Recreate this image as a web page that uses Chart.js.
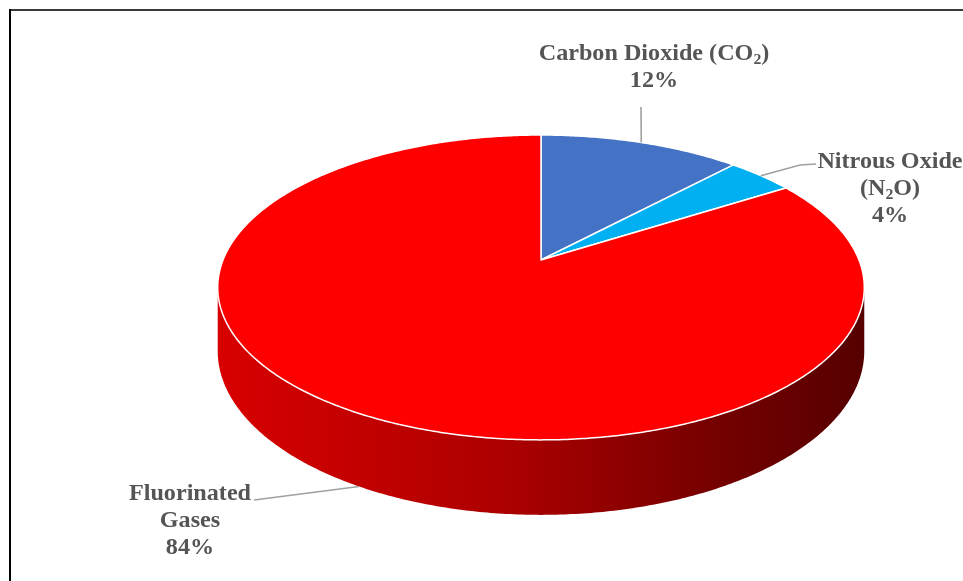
<!DOCTYPE html>
<html>
<head>
<meta charset="utf-8">
<script src="https://cdn.jsdelivr.net/npm/chart.js@4/dist/chart.umd.min.js"></script>
<style>
  html, body { margin: 0; padding: 0; background: #ffffff; overflow: hidden; }
  #wrap { position: relative; width: 963px; height: 581px; }
</style>
</head>
<body>
<div id="wrap"><canvas id="chart" width="963" height="581"></canvas></div>
<script>
// Gas categories (each entry holds the wrapped lines of its label)
const categories = [
  ['Carbon Dioxide (CO₂)'],
  ['Nitrous Oxide', '(N₂O)'],
  ['Fluorinated', 'Gases']
];
// Share of emissions, percent
const shares = [12, 4, 84];
// Slice fill colours
const sliceColors = ['#4472C4', '#00B0F0', '#FF0000'];

// 3-D projection of the flat pie: horizontal stretch, tilt, perspective and thickness
const STRETCH = 1.59, TILT = 0.7375, PERSP = 0.18, DEPTH = 0.3075;

// Label layout: centre x / first baseline of text block, and leader path start
const labelLayout = [
  { x: 654, y: 60, lead: [[641, 107]] },
  { x: 890, y: 168, lead: [[816, 164], [800, 165]] },
  { x: 190, y: 500, lead: [[254, 500]] }
];
const LABEL_FONT = 'bold 23px "Liberation Serif", "Times New Roman", serif';
const LABEL_SUB_FONT = 'bold 15px "Liberation Serif", "Times New Roman", serif';
const LINE_H = 27;
const TEXT_SX = 1.05;

function makeProjector(arc) {
  const R = arc.outerRadius, cx = arc.x, cy = arc.y;
  return function (a, drop) {
    const u = Math.cos(a), v = Math.sin(a), w = 1 - PERSP * v;
    return [cx + STRETCH * R * u / w, cy + (TILT * R * v + (drop ? DEPTH * R : 0)) / w];
  };
}

function arcPath(ctx, P, a0, a1, drop, first) {
  const n = Math.max(2, Math.ceil(Math.abs(a1 - a0) / 0.01));
  for (let i = 0; i <= n; i++) {
    const a = a0 + (a1 - a0) * i / n;
    const p = P(a, drop);
    if (i === 0 && first) ctx.moveTo(p[0], p[1]); else ctx.lineTo(p[0], p[1]);
  }
}

// Draws one line of text, rendering "₂" as a lowered small digit
function drawRichLine(ctx, text, cx, y) {
  const parts = [];
  for (const seg of text.split(/(₂)/)) {
    if (!seg) continue;
    if (seg === '₂') parts.push({ t: '2', sub: true }); else parts.push({ t: seg, sub: false });
  }
  let width = 0;
  for (const p of parts) { ctx.font = p.sub ? LABEL_SUB_FONT : LABEL_FONT; p.w = ctx.measureText(p.t).width; width += p.w; }
  ctx.save();
  ctx.translate(cx, y);
  ctx.scale(TEXT_SX, 1);
  let x = -width / 2;
  for (const p of parts) {
    ctx.font = p.sub ? LABEL_SUB_FONT : LABEL_FONT;
    ctx.fillText(p.t, x, p.sub ? 4 : 0);
    x += p.w;
  }
  ctx.restore();
  return width * TEXT_SX;
}

const pie3d = {
  id: 'pie3d',
  beforeDraw(chart) {
    const ctx = chart.ctx;
    ctx.save();
    ctx.fillStyle = '#ffffff';
    ctx.fillRect(0, 0, chart.width, chart.height);
    // frame
    ctx.fillStyle = '#3a3a3a';
    ctx.fillRect(9, 9, chart.width - 9, 2);
    ctx.fillStyle = '#000000';
    ctx.fillRect(9, 9, 2, chart.height - 9);
    ctx.restore();
  },
  beforeDatasetsDraw(chart) {
    const ctx = chart.ctx;
    const arcs = chart.getDatasetMeta(0).data;
    if (!arcs.length) return false;
    const P = makeProjector(arcs[0]);
    const aR = Math.asin(PERSP), aL = Math.PI - Math.asin(PERSP);

    // outer wall (front half only)
    const left = P(aL, false)[0], right = P(aR, false)[0];
    const grad = ctx.createLinearGradient(left, 0, right, 0);
    grad.addColorStop(0, '#d80000');
    grad.addColorStop(0.45, '#ac0000');
    grad.addColorStop(0.75, '#780000');
    grad.addColorStop(1, '#560000');
    arcs.forEach((arc, i) => {
      for (const shift of [0, 2 * Math.PI, -2 * Math.PI]) {
        const s = Math.max(arc.startAngle + shift, aR);
        const e = Math.min(arc.endAngle + shift, aL);
        if (e <= s) continue;
        ctx.save();
        ctx.beginPath();
        arcPath(ctx, P, s, e, false, true);
        arcPath(ctx, P, e, s, true, false);
        ctx.closePath();
        ctx.fillStyle = i === 2 ? grad : sliceColors[i];
        ctx.fill();
        ctx.restore();
      }
    });

    // top faces
    arcs.forEach((arc, i) => {
      ctx.save();
      ctx.beginPath();
      ctx.moveTo(arc.x, arc.y);
      arcPath(ctx, P, arc.startAngle, arc.endAngle, false, false);
      ctx.closePath();
      ctx.fillStyle = sliceColors[i];
      ctx.fill();
      ctx.lineWidth = 1.5;
      ctx.lineJoin = 'round';
      ctx.strokeStyle = '#ffffff';
      ctx.stroke();
      ctx.restore();
    });
    return false;
  },
  afterDraw(chart) {
    const ctx = chart.ctx;
    const arcs = chart.getDatasetMeta(0).data;
    if (!arcs.length) return;
    const P = makeProjector(arcs[0]);
    const aR = Math.asin(PERSP), aL = Math.PI - Math.asin(PERSP);
    const total = shares.reduce((s, v) => s + v, 0);

    arcs.forEach((arc, i) => {
      const mid = (arc.startAngle + arc.endAngle) / 2;
      let m = mid;
      while (m > Math.PI * 1.5) m -= 2 * Math.PI;
      const front = m > aR && m < aL;
      const anchor = P(mid, front);
      const lay = labelLayout[i];

      // leader line
      ctx.save();
      ctx.strokeStyle = '#a0a0a0';
      ctx.lineWidth = 1.6;
      ctx.beginPath();
      ctx.moveTo(lay.lead[0][0], lay.lead[0][1]);
      for (let k = 1; k < lay.lead.length; k++) ctx.lineTo(lay.lead[k][0], lay.lead[k][1]);
      ctx.lineTo(anchor[0], anchor[1]);
      ctx.stroke();
      ctx.restore();

      // label text
      ctx.save();
      ctx.fillStyle = '#555555';
      ctx.textAlign = 'left';
      ctx.textBaseline = 'alphabetic';
      const lines = categories[i].concat([Math.round(shares[i] / total * 100) + '%']);
      lines.forEach((ln, k) => drawRichLine(ctx, ln, lay.x, lay.y + k * LINE_H));
      ctx.restore();
    });
  }
};

new Chart(document.getElementById('chart'), {
  type: 'pie',
  data: {
    labels: categories,
    datasets: [{ data: shares, backgroundColor: sliceColors, borderWidth: 0 }]
  },
  options: {
    responsive: false,
    devicePixelRatio: 1,
    animation: false,
    rotation: 0,
    layout: { padding: { left: 341, right: 222, top: 60, bottom: 121 } },
    plugins: { legend: { display: false }, tooltip: { enabled: false } },
    events: []
  },
  plugins: [pie3d]
});
</script>
</body>
</html>
